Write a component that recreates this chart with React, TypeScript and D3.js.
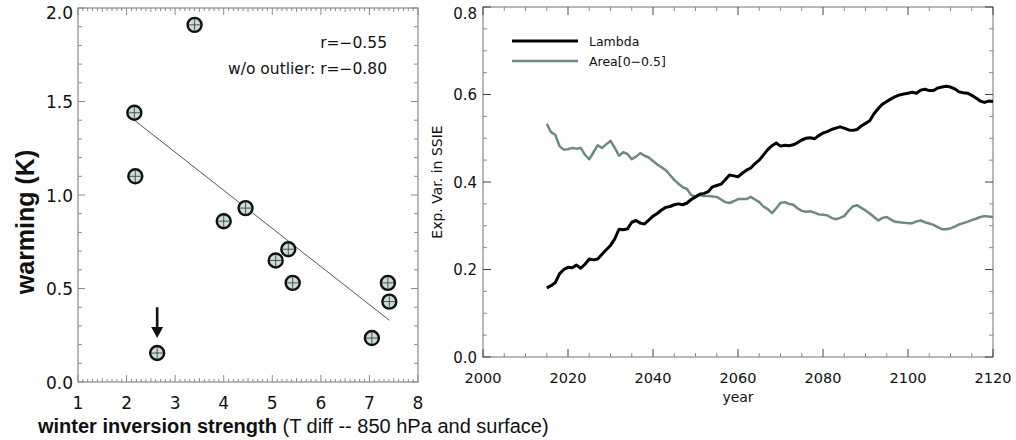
import React from "react";
import * as d3 from "d3";

// ---------- Left panel data ----------
const inversion = [3.40, 2.16, 2.18, 4.45, 4.0, 5.33, 5.07, 5.42, 7.38, 7.41, 7.05, 2.63];
const warming = [1.91, 1.44, 1.10, 0.93, 0.86, 0.71, 0.65, 0.53, 0.53, 0.43, 0.235, 0.155];
const fitX = [2.16, 7.41];
const fitY = [1.40, 0.33];
const leftXTicks = [1, 2, 3, 4, 5, 6, 7, 8];
const leftYTicks = [0, 0.5, 1.0, 1.5, 2.0];
const arrowX = 2.63;
const arrowFrom = 0.40;
const arrowTo = 0.235;
const corrLabels = ["r=\u22120.55", "w/o outlier: r=\u22120.80"];

// ---------- Right panel data ----------
const years = d3.range(2015, 2121);
const lambda = [
  0.158, 0.163, 0.170, 0.190, 0.200, 0.205, 0.204, 0.210, 0.203, 0.212,
  0.224, 0.222, 0.224, 0.235, 0.245, 0.255, 0.270, 0.292, 0.291, 0.293,
  0.308, 0.312, 0.306, 0.304, 0.313, 0.322, 0.328, 0.336, 0.342, 0.344,
  0.348, 0.350, 0.348, 0.352, 0.360, 0.366, 0.372, 0.374, 0.378, 0.389,
  0.392, 0.395, 0.405, 0.416, 0.414, 0.412, 0.420, 0.427, 0.432, 0.442,
  0.450, 0.462, 0.474, 0.483, 0.489, 0.482, 0.484, 0.483, 0.485, 0.490,
  0.496, 0.500, 0.501, 0.499, 0.506, 0.512, 0.515, 0.520, 0.523, 0.526,
  0.523, 0.519, 0.518, 0.520, 0.528, 0.534, 0.540, 0.556, 0.568, 0.578,
  0.584, 0.590, 0.595, 0.599, 0.601, 0.603, 0.605, 0.603, 0.610, 0.612,
  0.609, 0.609, 0.615, 0.617, 0.619, 0.617, 0.613, 0.606, 0.604, 0.603,
  0.598, 0.592, 0.585, 0.582, 0.585, 0.584,
];
const area = [
  0.533, 0.514, 0.508, 0.482, 0.474, 0.475, 0.478, 0.476, 0.478, 0.462,
  0.452, 0.468, 0.484, 0.478, 0.486, 0.494, 0.478, 0.460, 0.468, 0.464,
  0.452, 0.458, 0.466, 0.460, 0.456, 0.448, 0.440, 0.434, 0.427, 0.416,
  0.405, 0.396, 0.388, 0.384, 0.370, 0.367, 0.370, 0.368, 0.368, 0.367,
  0.366, 0.360, 0.354, 0.352, 0.356, 0.361, 0.361, 0.361, 0.366, 0.360,
  0.354, 0.344, 0.338, 0.329, 0.340, 0.352, 0.354, 0.350, 0.348, 0.340,
  0.334, 0.332, 0.333, 0.330, 0.326, 0.325, 0.324, 0.318, 0.315, 0.318,
  0.322, 0.334, 0.344, 0.347, 0.341, 0.335, 0.328, 0.320, 0.312, 0.318,
  0.320, 0.314, 0.309, 0.308, 0.307, 0.306, 0.306, 0.310, 0.312, 0.308,
  0.305, 0.302, 0.297, 0.292, 0.292, 0.294, 0.298, 0.303, 0.306, 0.309,
  0.313, 0.316, 0.320, 0.322, 0.321, 0.320,
];
const rightXTicks = [2000, 2020, 2040, 2060, 2080, 2100, 2120];
const rightYTicks = [0, 0.2, 0.4, 0.6, 0.8];
const legendNames = ["Lambda", "Area[0\u22120.5]"];

const AXIS = "#8a8a8a";
const GREY_LINE = "#6b8a86";
const FONT = "'Liberation Sans', Arial, Helvetica, sans-serif";
const WIDE = "'DejaVu Sans', Verdana, sans-serif";

export default function App() {
  // left scales
  const lx = d3.scaleLinear().domain([1, 8]).range([78, 418]);
  const ly = d3.scaleLinear().domain([0, 2]).range([382, 8]);
  // right scales
  const rx = d3.scaleLinear().domain([2000, 2120]).range([483, 993]);
  const ry = d3.scaleLinear().domain([0, 0.8]).range([357, 7]);

  const lMinorX = d3.range(10, 81).map((v) => v / 10);
  const lMinorY = d3.range(0, 21).map((v) => v / 10);
  const rMinorX = d3.range(2000, 2121, 5);
  const rMinorY = d3.range(0, 17).map((v) => v * 0.05);

  const line = d3
    .line<number>()
    .x((_, i) => rx(years[i]))
    .y((d) => ry(d))
    .curve(d3.curveLinear);

  const [lx0, lx1] = lx.range();
  const [ly0, ly1] = ly.range();
  const [rx0, rx1] = rx.range();
  const [ry0, ry1] = ry.range();

  return (
    <div style={{ position: "absolute", left: 0, top: 0 }}>
      <svg width={1016} height={440} style={{ display: "block", background: "#fff" }} fontFamily={FONT}>
        {/* ===== LEFT PANEL ===== */}
        <rect x={lx0} y={ly1} width={lx1 - lx0} height={ly0 - ly1} fill="none" stroke={AXIS} strokeWidth={1.2} />
        {lMinorX.map((v, i) => {
          const major = Math.abs(v - Math.round(v)) < 1e-6;
          const half = Math.abs(v * 2 - Math.round(v * 2)) < 1e-6;
          const len = major ? 7 : half ? 4 : 3;
          return (
            <g key={"lmx" + i} stroke={AXIS} strokeWidth={1}>
              <line x1={lx(v)} x2={lx(v)} y1={ly0} y2={ly0 - len} />
              <line x1={lx(v)} x2={lx(v)} y1={ly1} y2={ly1 + len} />
            </g>
          );
        })}
        {lMinorY.map((v, i) => {
          const major = Math.abs(v * 2 - Math.round(v * 2)) < 1e-6;
          const len = major ? 7 : 4;
          return (
            <g key={"lmy" + i} stroke={AXIS} strokeWidth={1}>
              <line x1={lx0} x2={lx0 + len} y1={ly(v)} y2={ly(v)} />
              <line x1={lx1} x2={lx1 - len} y1={ly(v)} y2={ly(v)} />
            </g>
          );
        })}
        {leftYTicks.map((v) => (
          <text key={"lyt" + v} x={lx0 - 5} y={Math.max(ly(v) + 6.5, 19)} textAnchor="end" fontSize={17} fontFamily={WIDE} fill="#111">
            {v.toFixed(1)}
          </text>
        ))}
        {leftXTicks.map((v) => (
          <text key={"lxt" + v} x={lx(v)} y={409} textAnchor="middle" fontSize={17} fontFamily={WIDE} fill="#111">
            {v}
          </text>
        ))}
        <text x={38} y={433} fontSize={20} fill="#111">
          <tspan fontWeight="bold">winter inversion strength</tspan>
          <tspan> (T diff -- 850 hPa and surface)</tspan>
        </text>
        <text
          transform={`translate(34,${222}) rotate(-90)`}
          textAnchor="middle"
          fontSize={25}
          fontWeight="bold"
          fill="#111"
        >
          warming (K)
        </text>
        {/* regression line */}
        <line x1={lx(fitX[0])} y1={ly(fitY[0])} x2={lx(fitX[1])} y2={ly(fitY[1])} stroke="#555" strokeWidth={1} />
        {/* points */}
        {inversion.map((xv, i) => {
          const cx = lx(xv);
          const cy = ly(warming[i]);
          return (
            <g key={"pt" + i}>
              <circle cx={cx} cy={cy} r={7} fill="#c8dcd8" stroke="#111" strokeWidth={2.4} />
              <line x1={cx - 6} x2={cx + 6} y1={cy} y2={cy} stroke="#333" strokeWidth={0.8} />
              <line x1={cx} x2={cx} y1={cy - 6} y2={cy + 6} stroke="#333" strokeWidth={0.8} />
            </g>
          );
        })}
        {/* arrow */}
        <line x1={lx(arrowX)} x2={lx(arrowX)} y1={ly(arrowFrom)} y2={ly(arrowTo) - 8} stroke="#111" strokeWidth={2.6} />
        <path
          d={`M${lx(arrowX) - 6},${ly(arrowTo) - 11} L${lx(arrowX) + 6},${ly(arrowTo) - 11} L${lx(arrowX)},${ly(arrowTo)} Z`}
          fill="#111"
        />
        {corrLabels.map((t, i) => (
          <text key={"cl" + i} x={387} y={48 + i * 26} textAnchor="end" fontSize={15.5} fontFamily={WIDE} fill="#111">
            {t}
          </text>
        ))}

        {/* ===== RIGHT PANEL ===== */}
        <rect x={rx0} y={ry1} width={rx1 - rx0} height={ry0 - ry1} fill="none" stroke={AXIS} strokeWidth={1.2} />
        {rMinorX.map((v) => {
          const major = v % 20 === 0;
          const len = major ? 8 : 4;
          return (
            <g key={"rmx" + v} stroke={major ? "#444" : AXIS} strokeWidth={1}>
              <line x1={rx(v)} x2={rx(v)} y1={ry0} y2={ry0 - len} />
              <line x1={rx(v)} x2={rx(v)} y1={ry1} y2={ry1 + len} />
            </g>
          );
        })}
        {rMinorY.map((v, i) => {
          const major = i % 4 === 0;
          const len = major ? 8 : 4;
          return (
            <g key={"rmy" + i} stroke={major ? "#444" : AXIS} strokeWidth={1}>
              <line x1={rx0} x2={rx0 + len} y1={ry(v)} y2={ry(v)} />
              <line x1={rx1} x2={rx1 - len} y1={ry(v)} y2={ry(v)} />
            </g>
          );
        })}
        {rightYTicks.map((v) => (
          <text key={"ryt" + v} x={rx0 - 6} y={Math.max(ry(v) + 5.5, 19)} textAnchor="end" fontSize={15} fontFamily={WIDE} fill="#111">
            {v.toFixed(1)}
          </text>
        ))}
        {rightXTicks.map((v) => (
          <text key={"rxt" + v} x={rx(v)} y={383} textAnchor="middle" fontSize={14.5} fontFamily={WIDE} fill="#111">
            {v}
          </text>
        ))}
        <text x={(rx0 + rx1) / 2} y={402} textAnchor="middle" fontSize={14} fontFamily={WIDE} fill="#111">
          year
        </text>
        <text
          transform={`translate(442,${(ry0 + ry1) / 2}) rotate(-90)`}
          textAnchor="middle"
          fontSize={14}
          fontFamily={WIDE}
          fill="#111"
        >
          Exp. Var. in SSIE
        </text>
        <path d={line(area) || ""} fill="none" stroke={GREY_LINE} strokeWidth={2.5} strokeLinejoin="round" />
        <path d={line(lambda) || ""} fill="none" stroke="#000" strokeWidth={3} strokeLinejoin="round" />
        {/* legend */}
        {legendNames.map((n, i) => (
          <g key={"lg" + i}>
            <line x1={512} x2={578} y1={41 + i * 20} y2={41 + i * 20} stroke={i === 0 ? "#000" : GREY_LINE} strokeWidth={i === 0 ? 3 : 2.5} />
            <text x={589} y={46 + i * 20} fontSize={12.5} fontFamily={WIDE} fill="#111">
              {n}
            </text>
          </g>
        ))}
      </svg>
    </div>
  );
}
